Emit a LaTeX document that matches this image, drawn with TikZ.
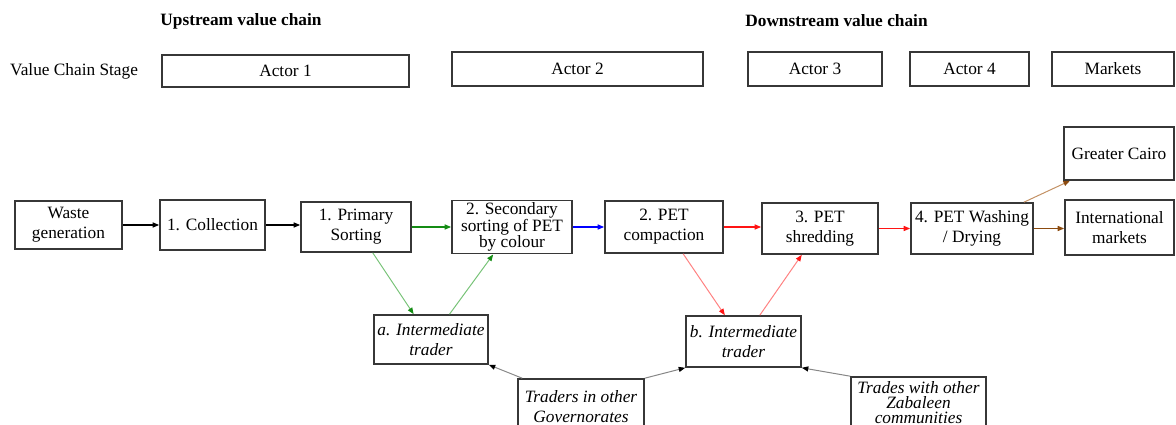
\documentclass[tikz,border=0pt]{standalone}
\usepackage{fontspec}
\setmainfont{Liberation Serif}
\usetikzlibrary{arrows.meta,calc}

\definecolor{boxline}{RGB}{55,55,55}
\definecolor{flowgreen}{RGB}{20,140,20}
\definecolor{lightgreen}{RGB}{120,195,120}
\definecolor{flowred}{RGB}{255,20,20}
\definecolor{lightred}{RGB}{255,130,130}
\definecolor{flowbrown}{RGB}{140,75,15}
\definecolor{lightbrown}{RGB}{195,145,100}
\definecolor{tradegray}{RGB}{135,135,135}

\tikzset{
  txt/.style={font=\fontsize{17.3}{20}\selectfont},
  box/.style={draw=boxline, line width=1.6pt, fill=white, rectangle,
    inner sep=2pt, align=center, txt},
  tight/.style={font=\fontsize{17.3}{15}\selectfont},
  tradebox/.style={box, font=\fontsize{17.3}{20}\selectfont\itshape},
  tip/.style={-{Triangle[length=6.5pt,width=5pt,#1]}},
  mainflow/.style={line width=1.3pt, draw=#1, tip={color=#1}},
  sideflow/.style 2 args={line width=1pt, draw=#1, tip={color=#2}},
}

\begin{document}
\begin{tikzpicture}[x=1pt,y=-1pt]
\useasboundingbox (0,0) rectangle (1176,425);
\clip (0,0) rectangle (1176,425);

% headings
\node[txt, font=\fontsize{17.3}{20}\selectfont\bfseries] (up) at (241,21) {Upstream value chain};
\node[txt, font=\fontsize{17.3}{20}\selectfont\bfseries] (down) at (836.5,21) {Downstream value chain};
\node[txt, anchor=west, inner sep=0pt] (stage) at (10,71) {Value Chain Stage};

% actor strip
\node[box, minimum width=247, minimum height=32] (act1) at (285.5,71) {Actor 1};
\node[box, minimum width=251, minimum height=34] (act2) at (577.5,69) {Actor 2};
\node[box, minimum width=134, minimum height=34] (act3) at (815,69) {Actor 3};
\node[box, minimum width=119, minimum height=34] (act4) at (969.5,69) {Actor 4};
\node[box, minimum width=122, minimum height=34] (mkts) at (1113,69) {Markets};

% main chain
\node[box, minimum width=107, minimum height=48] (waste) at (68.5,225) {Waste\\generation};
\node[box, minimum width=105, minimum height=50] (coll) at (212.5,225) {1. Collection};
\node[box, minimum width=110, minimum height=50] (prim) at (356,227) {1. Primary\\Sorting};
\node[box, tight, minimum width=120, minimum height=50] (sec) at (512,227) {2. Secondary\\sorting of PET\\by colour};
\node[box, minimum width=118, minimum height=52] (comp) at (664,227) {2. PET\\compaction};
\node[box, minimum width=116, minimum height=51] (shred) at (820,228.5) {3. PET\\shredding};
\node[box, minimum width=122, minimum height=51] (wash) at (972,228.5) {4. PET Washing\\/ Drying};
\node[box, minimum width=110, minimum height=53] (cairo) at (1119,153.5) {Greater Cairo};
\node[box, minimum width=109, minimum height=55] (intl) at (1119.5,227.5) {International\\markets};

% traders
\node[tradebox, minimum width=114, minimum height=49] (ta) at (431,339.5) {a. Intermediate\\trader};
\node[tradebox, minimum width=115, minimum height=51] (tb) at (743.5,341.5) {b. Intermediate\\trader};
\node[tradebox, minimum width=126, minimum height=56] (gov) at (581,407) {Traders in other\\Governorates};
\node[tradebox, font=\fontsize{17.3}{15}\selectfont\itshape, minimum width=135, minimum height=52] (zab) at (918.5,403) {Trades with other\\Zabaleen\\communities};

% horizontal flows
\draw[mainflow=black] (waste.east) -- (coll.west |- waste.east);
\draw[mainflow=black] (coll.east) -- (prim.west |- coll.east);
\draw[mainflow=flowgreen] (prim.east) -- (sec.west |- prim.east);
\draw[mainflow=blue] (sec.east) -- (comp.west |- sec.east);
\draw[mainflow=flowred] (comp.east) -- (shred.west |- comp.east);
\draw[mainflow=flowred] (shred.east) -- (wash.west |- shred.east);
\draw[mainflow=flowbrown] (wash.east) -- (intl.west |- wash.east);
\draw[sideflow={lightbrown}{flowbrown}] ($(wash.north west)!0.92!(wash.north east)$) -- ($(cairo.south west)!0.06!(cairo.south east)$);

% detours through intermediate traders
\draw[sideflow={lightgreen}{flowgreen}] ($(prim.south west)!0.65!(prim.south east)$) -- ($(ta.north west)!0.35!(ta.north east)$);
\draw[sideflow={lightgreen}{flowgreen}] ($(ta.north west)!0.66!(ta.north east)$) -- ($(sec.south west)!0.345!(sec.south east)$);
\draw[sideflow={lightred}{flowred}] ($(comp.south west)!0.66!(comp.south east)$) -- ($(tb.north west)!0.34!(tb.north east)$);
\draw[sideflow={lightred}{flowred}] ($(tb.north west)!0.64!(tb.north east)$) -- ($(shred.south west)!0.345!(shred.south east)$);

% outside traders
\draw[sideflow={tradegray}{black}] ($(gov.north west)+(5,0)$) -- (ta.south east);
\draw[sideflow={tradegray}{black}] (gov.north east) -- (tb.south west);
\draw[sideflow={tradegray}{black}] (zab.north west) -- (tb.south east);
\end{tikzpicture}
\end{document}
